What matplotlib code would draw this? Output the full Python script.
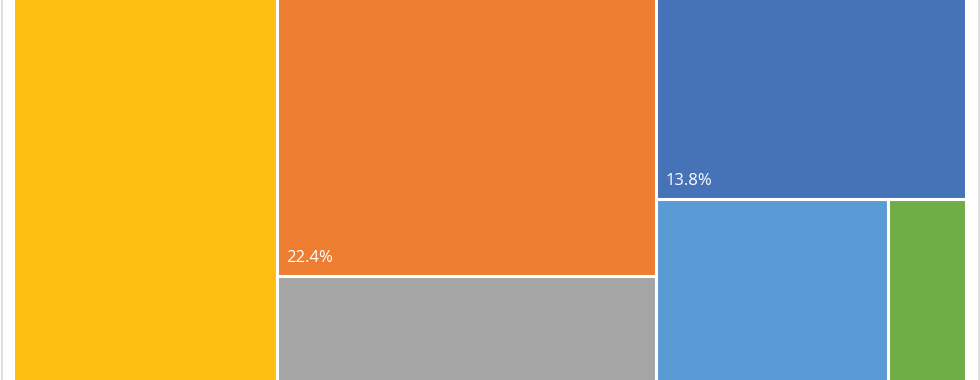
import matplotlib.pyplot as plt
from matplotlib.patches import Rectangle
from matplotlib.lines import Line2D

# treemap share of each category (percent)
categories = ["A", "B", "C", "D", "E", "F"]
values = [27.7, 22.4, 17.4, 13.8, 14.0, 4.7]
colors = ["#FDBF11", "#ED7D31", "#A5A5A5", "#4672B8", "#5B9BD5", "#70AD47"]

# how Excel grouped the cells: columns, then stacked slots; a tuple is split side by side
columns = [[0], [1, 2], [3, (4, 5)]]


def cell_value(item):
    if isinstance(item, tuple):
        return sum(values[i] for i in item)
    return values[item]


def layout(cols):
    total = sum(cell_value(it) for col in cols for it in col)
    rects = {}
    x = 0.0
    for col in cols:
        col_sum = sum(cell_value(it) for it in col)
        w = col_sum / total
        y = 0.0
        for it in col:
            h = cell_value(it) / col_sum
            if isinstance(it, tuple):
                xx = x
                for i in it:
                    ww = w * values[i] / cell_value(it)
                    rects[i] = (xx, y, ww, h)
                    xx += ww
            else:
                rects[it] = (x, y, w, h)
            y += h
        x += w
    return rects


fig = plt.figure(figsize=(9.8, 3.8), dpi=100)
# chart is cropped: plot area runs past the top and bottom of the picture
ax = fig.add_axes([12.5 / 980, -139 / 380, 953.5 / 980, 556 / 380])
ax.set_xlim(0, 1)
ax.set_ylim(1, 0)
ax.axis("off")

for i, (x, y, w, h) in layout(columns).items():
    ax.add_patch(Rectangle((x, y), w, h, facecolor=colors[i],
                           edgecolor="white", linewidth=2.2))
    # labels sit at the bottom-left of a cell; those below the crop are not shown
    px, py = ax.transData.transform((x, y + h))
    if py < 30:
        continue
    ax.annotate(f"{values[i]:.1f}%", xy=(x, y + h), xytext=(6.5, 7.5),
                textcoords="offset points", ha="left", va="bottom",
                color="white", fontsize=12, family=["Open Sans", "DejaVu Sans"])

# light chart-area border
for fx in (1.5 / 980, 978.5 / 980):
    fig.add_artist(Line2D([fx, fx], [0, 1], color="#D9D9D9", linewidth=1.2,
                          transform=fig.transFigure))

fig.savefig("out.png", dpi=100)
